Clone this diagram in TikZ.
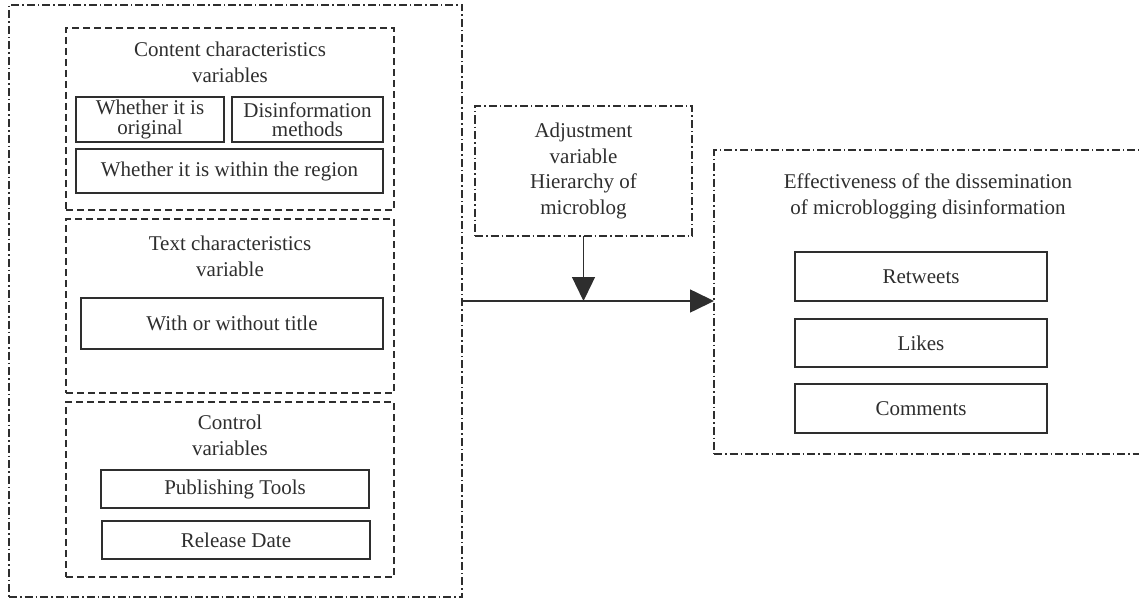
\documentclass[tikz,border=0pt]{standalone}
\usepackage{fontspec}
\setmainfont{Liberation Serif}
\usetikzlibrary{arrows.meta}
\definecolor{ink}{HTML}{2E2E2E}
\begin{document}
\begin{tikzpicture}[x=1pt,y=-1pt,
  every node/.style={inner sep=0pt, outer sep=0pt, text=ink},
  dashdotbox/.style={draw=ink, line width=1.3pt, dash pattern=on 8pt off 3pt on 1.5pt off 3pt, rectangle},
  dashbox/.style={draw=ink, line width=1.3pt, dash pattern=on 7pt off 4pt, rectangle},
  solidbox/.style={draw=ink, line width=1.5pt, rectangle, align=center, font=\fontsize{21}{19.5}\selectfont},
  title/.style={align=center, font=\fontsize{21}{26}\selectfont},
  arr/.style={draw=ink, line width=1.6pt, -{Triangle[length=24pt,width=23pt]}}
]
\useasboundingbox (0,0) rectangle (1139,599);
% outer left
\node[dashdotbox, minimum width=453, minimum height=592] (L) at (235.5,301) {};
% content box
\node[dashbox, minimum width=328, minimum height=182] (C) at (230,119) {};
\node[title] (Ct) at (230,62) {Content characteristics\\variables};
\node[solidbox, minimum width=148, minimum height=45] (C1) at (150,119.5) {Whether it is\\original};
\node[solidbox, minimum width=151, minimum height=45] (C2) at (307.5,119.5) {Disinformation\\methods};
\node[solidbox, minimum width=307, minimum height=44] (C3) at (229.5,171) {Whether it is within the region};
% text box
\node[dashbox, minimum width=328, minimum height=174] (T) at (230,306) {};
\node[title] (Tt) at (230,256) {Text characteristics\\variable};
\node[solidbox, minimum width=302, minimum height=51] (T1) at (232,323.5) {With or without title};
% control box
\node[dashbox, minimum width=328, minimum height=175] (K) at (230,489.5) {};
\node[title] (Kt) at (230,435) {Control\\variables};
\node[solidbox, minimum width=268, minimum height=38] (K1) at (235,489) {Publishing Tools};
\node[solidbox, minimum width=268, minimum height=38] (K2) at (236,540) {Release Date};
% adjustment
\node[dashdotbox, minimum width=217, minimum height=130] (A) at (583.5,171) {};
\node[align=center, font=\fontsize{21}{25.5}\selectfont] (At) at (583.5,171) {Adjustment\\variable\\Hierarchy of\\microblog};
% right box
\node[dashdotbox, minimum width=446, minimum height=304] (R) at (937,302) {};
\node[title] (Rt) at (928,196) {Effectiveness of the dissemination\\of microblogging disinformation};
\node[solidbox, minimum width=252, minimum height=49] (R1) at (921,276.5) {Retweets};
\node[solidbox, minimum width=252, minimum height=48] (R2) at (921,343) {Likes};
\node[solidbox, minimum width=252, minimum height=49] (R3) at (921,408.5) {Comments};
% arrows
\draw[arr] (L.east) -- (L.east -| R.west);
\draw[arr, line width=1.3pt] (A.south) -- (A.south |- L.east);
\end{tikzpicture}
\end{document}
